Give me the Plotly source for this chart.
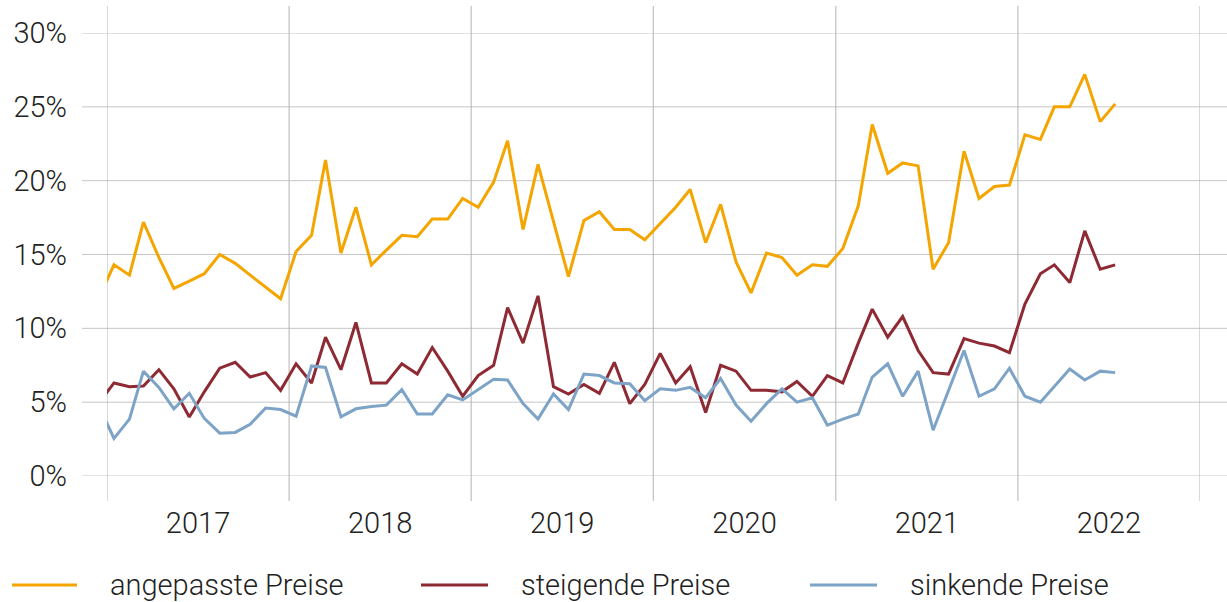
import pandas as pd
import plotly.graph_objects as go

# Monthly values, Dec 2016 .. Jul 2022 (percent)
months = pd.date_range("2016-12-01", "2022-07-01", freq="MS") + pd.Timedelta(days=14)

angepasste = [12.0,
    14.3, 13.6, 17.2, 14.8, 12.7, 13.2, 13.7, 15.0, 14.4, 13.6, 12.8, 12.0,
    15.2, 16.3, 21.4, 15.1, 18.2, 14.3, 15.3, 16.3, 16.2, 17.4, 17.4, 18.8,
    18.2, 19.9, 22.7, 16.7, 21.1, 17.3, 13.5, 17.3, 17.9, 16.7, 16.7, 16.0,
    17.1, 18.2, 19.4, 15.8, 18.4, 14.5, 12.4, 15.1, 14.8, 13.6, 14.3, 14.2,
    15.4, 18.3, 23.8, 20.5, 21.2, 21.0, 14.0, 15.8, 22.0, 18.8, 19.6, 19.7,
    23.1, 22.8, 25.0, 25.0, 27.2, 24.0, 25.2]

steigende = [4.9,
    6.3, 6.05, 6.1, 7.2, 5.9, 4.0, 5.7, 7.3, 7.7, 6.7, 7.0, 5.8,
    7.6, 6.3, 9.4, 7.2, 10.4, 6.3, 6.3, 7.6, 6.9, 8.7, 7.1, 5.4,
    6.8, 7.5, 11.4, 9.0, 12.2, 6.05, 5.55, 6.2, 5.6, 7.7, 4.9, 6.2,
    8.3, 6.3, 7.4, 4.3, 7.5, 7.1, 5.8, 5.8, 5.7, 6.4, 5.4, 6.8,
    6.3, 9.0, 11.3, 9.4, 10.8, 8.5, 7.0, 6.9, 9.3, 9.0, 8.8, 8.35,
    11.65, 13.7, 14.3, 13.1, 16.6, 14.0, 14.3]

sinkende = [4.8,
    2.55, 3.85, 7.1, 6.0, 4.55, 5.6, 3.9, 2.9, 2.95, 3.5, 4.6, 4.5,
    4.05, 7.45, 7.35, 4.0, 4.55, 4.7, 4.8, 5.85, 4.2, 4.2, 5.5, 5.15,
    5.85, 6.55, 6.5, 4.9, 3.85, 5.55, 4.5, 6.9, 6.8, 6.3, 6.25, 5.1,
    5.9, 5.8, 6.0, 5.3, 6.6, 4.8, 3.7, 4.9, 5.9, 5.0, 5.3, 3.45,
    3.85, 4.2, 6.7, 7.6, 5.4, 7.1, 3.1, 5.8, 8.5, 5.4, 5.9, 7.3,
    5.4, 5.0, 6.05, 7.25, 6.5, 7.1, 7.0]

series_names = ["angepasste Preise", "steigende Preise", "sinkende Preise"]
series_colors = ["#F4A500", "#8E2A33", "#7DA3C7"]
y_ticks = [0, 5, 10, 15, 20, 25, 30]
year_bounds = [f"{y}-01-01" for y in range(2017, 2024)]

W, H = 1227, 602
L, R, T, B = 107, 27, 33, 126
pw, ph = W - L - R, H - T - B

def px_x(p):
    return (p - L) / pw

def px_y(p):
    return (H - B - p) / ph

FONT = dict(family="Roboto", color="#222222", weight=300)

fig = go.Figure()
for name, vals, col in zip(series_names, [angepasste, steigende, sinkende], series_colors):
    fig.add_trace(go.Scatter(x=months, y=vals, mode="lines", name=name,
                             line=dict(color=col, width=3), showlegend=False))

shapes = []
for v in y_ticks:
    shapes.append(dict(type="line", xref="paper", yref="y", x0=px_x(82), x1=px_x(1227),
                       y0=v, y1=v, line=dict(color="#c6c6c6", width=1), layer="below"))
for d in year_bounds:
    shapes.append(dict(type="line", xref="x", yref="paper", x0=d, x1=d,
                       y0=px_y(501), y1=px_y(6), line=dict(color="#b3b3b3", width=1), layer="below"))

# custom legend
leg_y = px_y(585)
leg_lines = [(12, 77, 108), (421, 488, 519), (810, 877, 908)]
annotations = []
for (a, b, t), name, col in zip(leg_lines, series_names, series_colors):
    shapes.append(dict(type="line", xref="paper", yref="paper", x0=px_x(a), x1=px_x(b),
                       y0=leg_y, y1=leg_y, line=dict(color=col, width=3)))
    annotations.append(dict(xref="paper", yref="paper", x=px_x(t), y=leg_y, text=name,
                            showarrow=False, xanchor="left", yanchor="middle",
                            font=dict(size=29, **FONT)))

fig.update_layout(
    width=W, height=H,
    margin=dict(l=L, r=R, t=T, b=B, pad=0),
    paper_bgcolor="white", plot_bgcolor="white",
    shapes=shapes, annotations=annotations,
    font=dict(size=29, **FONT),
    xaxis=dict(type="date", range=["2017-01-01", "2023-01-01"], dtick="M12",
               tick0="2017-01-01", tickformat="%Y", ticklabelmode="period",
               showgrid=False, zeroline=False, showline=False, ticks="",
               ticklabelstandoff=27, tickfont=dict(size=29, **FONT)),
    yaxis=dict(range=[0, 30], tickvals=y_ticks, ticktext=[f"{v}%" for v in y_ticks],
               showgrid=False, zeroline=False, showline=False, ticks="",
               ticklabelstandoff=39, tickfont=dict(size=29, **FONT)),
)

fig.write_html("out.html",
               config={"displayModeBar": False},
               post_script="document.body.style.margin='0';document.body.style.overflow='hidden';")
